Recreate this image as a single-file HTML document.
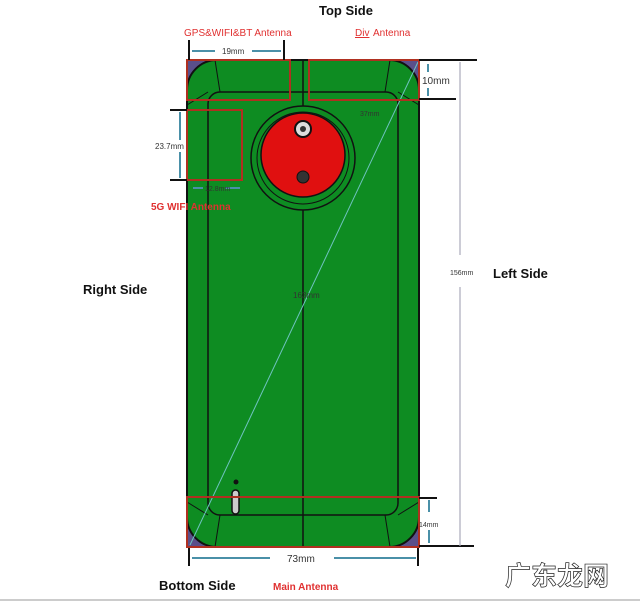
<!DOCTYPE html>
<html><head><style>
html,body{margin:0;padding:0;background:#fff;}
svg{display:block;font-family:"Liberation Sans",sans-serif;}
</style></head><body>
<svg width="640" height="601" viewBox="0 0 640 601">
<rect width="640" height="601" fill="#fff"/>
<rect x="187" y="60" width="232" height="487" fill="#5a4f8a"/>
<rect x="187" y="60" width="232" height="487" rx="30" fill="#0e8c22" stroke="#111" stroke-width="2"/>
<rect x="208" y="92" width="190" height="423" rx="12" fill="none" stroke="#111" stroke-width="1.5"/>
<line x1="303" y1="60" x2="303" y2="547" stroke="#111" stroke-width="1.5"/>
<line x1="215" y1="60" x2="220" y2="92" stroke="#111"/><line x1="390" y1="60" x2="385" y2="92" stroke="#111"/>
<line x1="187" y1="105" x2="208" y2="92" stroke="#111"/><line x1="419" y1="105" x2="398" y2="92" stroke="#111"/>
<line x1="215" y1="547" x2="220" y2="515" stroke="#111"/><line x1="390" y1="547" x2="385" y2="515" stroke="#111"/>
<line x1="187" y1="502" x2="208" y2="515" stroke="#111"/><line x1="419" y1="502" x2="398" y2="515" stroke="#111"/>
<line x1="190" y1="545" x2="418" y2="62" stroke="#6fc3c0" stroke-width="1"/>
<circle cx="303" cy="158" r="52" fill="#0e8c22" stroke="#111" stroke-width="1.5"/>
<circle cx="303" cy="158" r="46" fill="none" stroke="#111" stroke-width="1"/>
<circle cx="303" cy="155" r="42" fill="#e01010" stroke="#111" stroke-width="1.5"/>
<circle cx="303" cy="129" r="8" fill="#ddd" stroke="#111" stroke-width="2"/>
<circle cx="303" cy="129" r="3" fill="#333"/>
<circle cx="303" cy="177" r="6" fill="#333" stroke="#111"/>
<circle cx="236" cy="482" r="2.5" fill="#111"/>
<rect x="232" y="490" width="7" height="24" rx="3.5" fill="#ccc" stroke="#111" stroke-width="1.5"/>
<g fill="none" stroke="#b03020" stroke-width="2">
<rect x="187" y="60" width="103" height="40"/>
<rect x="309" y="60" width="110" height="40"/>
<rect x="187" y="110" width="55" height="70"/>
<rect x="187" y="497" width="232" height="50"/>
</g>
<g stroke="#111" stroke-width="2">
<line x1="189" y1="40" x2="189" y2="60"/><line x1="284" y1="40" x2="284" y2="60"/>
<line x1="419" y1="60" x2="477" y2="60"/><line x1="419" y1="99" x2="456" y2="99"/>
<line x1="170" y1="110" x2="187" y2="110"/><line x1="170" y1="180" x2="187" y2="180"/>
<line x1="419" y1="498" x2="437" y2="498"/><line x1="419" y1="546" x2="474" y2="546"/>
<line x1="189" y1="548" x2="189" y2="566"/><line x1="418" y1="548" x2="418" y2="566"/>
</g>
<g stroke="#4a90a8" stroke-width="2">
<line x1="192" y1="51" x2="215" y2="51"/><line x1="252" y1="51" x2="281" y2="51"/>
<line x1="428" y1="64" x2="428" y2="72"/><line x1="428" y1="88" x2="428" y2="96"/>
<line x1="180" y1="112" x2="180" y2="140"/><line x1="180" y1="152" x2="180" y2="178"/>
<line x1="429" y1="500" x2="429" y2="512"/><line x1="429" y1="530" x2="429" y2="543"/>
<line x1="192" y1="558" x2="270" y2="558"/><line x1="334" y1="558" x2="416" y2="558"/>
<line x1="193" y1="188" x2="203" y2="188"/><line x1="225" y1="188" x2="240" y2="188"/>
</g>
<line x1="460" y1="62" x2="460" y2="255" stroke="#aab" stroke-width="1.2"/>
<line x1="460" y1="287" x2="460" y2="546" stroke="#aab" stroke-width="1.2"/>
<g font-weight="bold" fill="#111" font-size="13">
<text x="319" y="15">Top Side</text>
<text x="83" y="294">Right Side</text>
<text x="493" y="278">Left Side</text>
<text x="159" y="590">Bottom Side</text>
</g>
<g fill="#e03030" font-size="10">
<text x="184" y="36">GPS&amp;WIFI&amp;BT Antenna</text>
<text x="355" y="36" text-decoration="underline">Div</text><text x="373" y="36">Antenna</text>
<text x="151" y="210" font-weight="bold">5G WIFI Antenna</text>
<text x="273" y="590" font-weight="bold">Main Antenna</text>
</g>
<g fill="#333" font-size="8">
<text x="222" y="54">19mm</text>
<text x="422" y="84" font-size="10">10mm</text>
<text x="155" y="149">23.7mm</text>
<text x="450" y="275" font-size="7">156mm</text>
<text x="293" y="298">163mm</text>
<text x="419" y="527" font-size="7">14mm</text>
<text x="287" y="562" font-size="10">73mm</text>
<text x="205" y="191" font-size="7">12.8mm</text>
<text x="360" y="116" font-size="7">37mm</text>
</g>
<text x="505" y="585" font-size="26" font-weight="bold" fill="#fff" stroke="#222" stroke-width="0.7" font-family="'Liberation Sans','Noto Sans CJK SC',sans-serif">广东龙网</text>
<line x1="0" y1="600" x2="640" y2="600" stroke="#999" stroke-width="1"/>
</svg>
</body></html>
